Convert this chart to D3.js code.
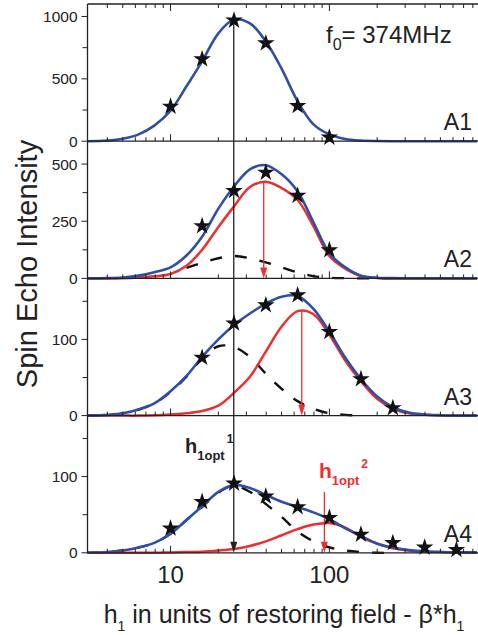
<!DOCTYPE html>
<html><head><meta charset="utf-8">
<script src="https://cdn.jsdelivr.net/npm/d3@7"></script>
<style>
body{margin:0;background:#fff}
svg{display:block}
text{font-family:"Liberation Sans",Arial,Helvetica,sans-serif;fill:#222}
</style>
</head><body>
<svg id="c" width="478" height="635"></svg>
<script>
// ---------- data ----------
const curveX = [3,4,5,6.3,7.9,10,12.6,15.8,20,25.1,31.6,39.8,50.1,63.1,79.4,100,126,158,200,251,316,398,501,631,850];

const blueA1 = [0,5,20,55,125,245,440,640,865,975,945,800,580,320,135,55,18,5,1,0,0,0,0,0,0];

const blueA2 = [0,1,4,12,27,48,100,182,305,402,477,495,455,380,245,110,48,12,3,1,0,0,0,0,0];
const redA2  = [0,0,1,4,9,19,55,125,225,315,400,423,395,343,228,98,42,10,2,0,0,0,0,0,0];
const dashA2 = [null,null,null,null,null,null,46,68,88,98,88,70,48,26,10,3,1,0,0,0,null,null,null,null,null];

const blueA3 = [0,1,3,8,16,32,52,77,100,119,134,147,156,157,140,110,76,48,25,11,4,1.5,0.5,0,0];
const redA3  = [0,0,0,0,0.5,1.5,3,6,13,30,51,84,117,137,133,106,72,45,22,9,3,1,0,0,0];
const dashA3 = [0,1,3,8,16,31,51,75,91,90,77,55,35,19,9,3,1,0,null,null,null,null,null,null,null];

const blueA4 = [0,1,3,7,13,25,43,61,80,89,85,76,67,60,53,44,32,22,12,7,3.5,2,1,0.7,0.5];
const redA4  = [0,0,0,0,0,0.5,1,1.5,3,5,9,15,23,31,37,39,33,21,12,6,3,1.5,1,0.5,0];
const dashA4 = [0,1,3,7,13,25,43,60,79,88,80,64,47,28,15,7,3,1,0,0,null,null,null,null,null];

const starXA1 = [10,15.8,25.1,39.8,63.1,100];
const starsA1 = [278,658,968,786,283,30];
const starXA2 = [15.8,25.1,39.8,63.1,100];
const starsA2 = [229,383,463,362,124];
const starXA3 = [15.8,25.1,39.8,63.1,100,158,251];
const starsA3 = [76,121,145,158,110,48,10];
const starXA4 = [10,15.8,25.1,39.8,63.1,100,158,251,398,631];
const starsA4 = [32,67,91,74,60,46,24,13,7,4];

const panelNames = ["A1","A2","A3","A4"];
const yMax = [1100,600,180,180];
const yMajor = [[0,500,1000],[0,250,500],[0,100],[0,100]];
const yMinor = [[250,750],[125,375],[50,150],[50,150]];
const xDomain = [3,850];
const xTickLabels = [10,100];

const h1opt1 = 25;                 // black arrow position
const h1opt2 = [38.6, 67, 93];     // red arrow positions in A2..A4
const redArrowTopA4 = 80;

// ---------- layout ----------
const svg = d3.select("#c");
const L = 87.5, R = 477, T0 = 4, PH = 137.2;
const BLUE = "#2f4fa7", RED = "#ec2f2f", INK = "#222";

const x = d3.scaleLog().domain(xDomain).range([L, R]);
const ys = yMax.map((m,i) => d3.scaleLinear().domain([0,m]).range([T0 + PH*(i+1), T0 + PH*i]));

const panels = [
  {blue: blueA1, red: null, dash: null, sx: starXA1, sy: starsA1},
  {blue: blueA2, red: redA2, dash: dashA2, sx: starXA2, sy: starsA2},
  {blue: blueA3, red: redA3, dash: dashA3, sx: starXA3, sy: starsA3},
  {blue: blueA4, red: redA4, dash: dashA4, sx: starXA4, sy: starsA4}
];

const xt = x.ticks().filter(v => v > xDomain[0] && v < xDomain[1]);
const isMajor = v => Math.abs(Math.log10(v) - Math.round(Math.log10(v))) < 1e-9;

panels.forEach((p, i) => {
  const y = ys[i];
  const g = svg.append("g");
  const yb = y(0), yt = y(yMax[i]);

  const line = arr => d3.line()
    .defined((d,j) => arr[j] !== null)
    .x((d,j) => x(curveX[j]))
    .y((d,j) => y(arr[j]))
    .curve(d3.curveCatmullRom.alpha(0.5))(arr);

  if (p.dash) g.append("path").attr("d", line(p.dash)).attr("fill","none")
      .attr("stroke","#111").attr("stroke-width",2.4).attr("stroke-dasharray","12,13");
  if (p.red) g.append("path").attr("d", line(p.red)).attr("fill","none")
      .attr("stroke",RED).attr("stroke-width",2.5);
  g.append("path").attr("d", line(p.blue)).attr("fill","none")
      .attr("stroke",BLUE).attr("stroke-width",2.6);

  // frame: left, top, bottom
  g.append("line").attr("x1",L).attr("x2",L).attr("y1",yt).attr("y2",yb).attr("stroke",INK).attr("stroke-width",1.3);
  g.append("line").attr("x1",L).attr("x2",R+1).attr("y1",yb).attr("y2",yb).attr("stroke",INK).attr("stroke-width",1.3);
  if (i === 0) g.append("line").attr("x1",L).attr("x2",R+1).attr("y1",yt).attr("y2",yt).attr("stroke",INK).attr("stroke-width",1.3);

  // x ticks (inward)
  xt.forEach(v => {
    const len = isMajor(v) ? 7 : 4;
    g.append("line").attr("x1",x(v)).attr("x2",x(v)).attr("y1",yb).attr("y2",yb-len).attr("stroke",INK).attr("stroke-width",1);
    if (i === 0) g.append("line").attr("x1",x(v)).attr("x2",x(v)).attr("y1",yt).attr("y2",yt+len).attr("stroke",INK).attr("stroke-width",1);
  });

  // y ticks (outward)
  yMajor[i].forEach(v => {
    g.append("line").attr("x1",L-6).attr("x2",L).attr("y1",y(v)).attr("y2",y(v)).attr("stroke",INK).attr("stroke-width",1);
    g.append("text").attr("x",L-10).attr("y",y(v)).attr("dy","0.36em").attr("text-anchor","end")
      .attr("font-size",15.5).text(v);
  });
  yMinor[i].forEach(v => {
    g.append("line").attr("x1",L-5).attr("x2",L).attr("y1",y(v)).attr("y2",y(v)).attr("stroke",INK).attr("stroke-width",1);
  });

  g.append("text").attr("x",472).attr("y",yb-11).attr("text-anchor","end").attr("font-size",23).text(panelNames[i]);
});

// arrows
function arrow(x0, y1, y2, color){
  svg.append("line").attr("x1",x0).attr("x2",x0).attr("y1",y1).attr("y2",y2-9)
    .attr("stroke",color).attr("stroke-width",1.3);
  svg.append("path").attr("d",`M${x0-3.5},${y2-11}L${x0+3.5},${y2-11}L${x0},${y2}Z`).attr("fill",color);
}
arrow(x(h1opt1), ys[0](d3.max(blueA1)), ys[3](0), INK);
arrow(x(h1opt2[0]), ys[1](d3.max(redA2)), ys[1](0), RED);
arrow(x(h1opt2[1]), ys[2](d3.max(redA3)), ys[2](0), RED);
arrow(x(h1opt2[2]), ys[3](redArrowTopA4), ys[3](0), RED);

// stars on top
const star = d3.symbol().type(d3.symbolStar).size(95);
panels.forEach((p,i) => {
  p.sx.forEach((v,j) => {
    svg.append("path").attr("d", star()).attr("fill","#111")
      .attr("transform",`translate(${x(v)},${ys[i](p.sy[j])})`);
  });
});

// x tick labels
xTickLabels.forEach(v => {
  svg.append("text").attr("x",x(v)).attr("y",583).attr("text-anchor","middle").attr("font-size",24).text(v);
});

// x title
const xtEl = svg.append("text").attr("x",284).attr("y",623).attr("text-anchor","middle").attr("font-size",25);
xtEl.append("tspan").text("h");
xtEl.append("tspan").attr("font-size",14).attr("dy",8).text("1");
xtEl.append("tspan").attr("dy",-8).text(" in units of restoring field - \u03B2*h");
xtEl.append("tspan").attr("font-size",14).attr("dy",8).text("1");

// y title
svg.append("text").attr("transform","translate(37,264) rotate(-90)").attr("text-anchor","middle")
  .attr("font-size",29).text("Spin Echo Intensity");

// f0 label
const f0 = svg.append("text").attr("x",326).attr("y",43).attr("font-size",24);
f0.append("tspan").text("f");
f0.append("tspan").attr("font-size",16).attr("dy",7).text("0");
f0.append("tspan").attr("dy",-7).text("= 374MHz");

// h1opt labels
const h1 = svg.append("text").attr("x",185).attr("y",453).attr("font-size",20).attr("font-weight","bold");
h1.append("tspan").text("h");
h1.append("tspan").attr("font-size",13).attr("dy",7).text("1opt");
h1.append("tspan").attr("font-size",12).attr("dx",2).attr("dy",-17).text("1");

const h2 = svg.append("text").attr("x",319).attr("y",478).attr("font-size",21).attr("font-weight","bold").style("fill",RED);
h2.append("tspan").text("h");
h2.append("tspan").attr("font-size",13).attr("dy",7).text("1opt");
h2.append("tspan").attr("font-size",12).attr("dx",2).attr("dy",-17).text("2");
</script>
</body></html>
